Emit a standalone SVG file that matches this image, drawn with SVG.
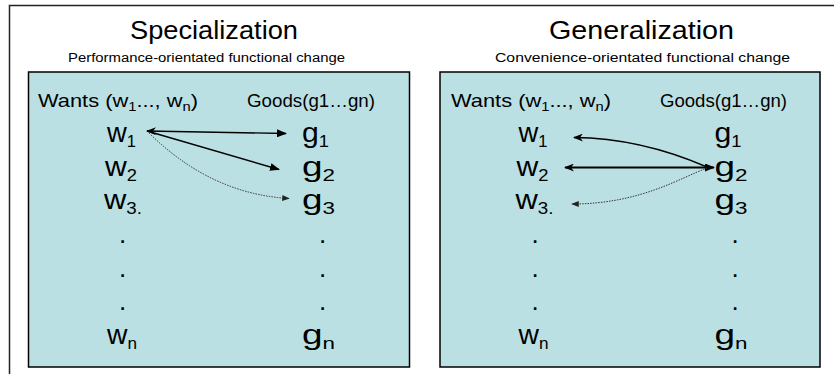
<svg xmlns="http://www.w3.org/2000/svg" width="834" height="374" viewBox="0 0 834 374">
<style>
text{font-family:"Liberation Sans",Arial,sans-serif;fill:#000}
.title{font-size:26px;text-anchor:middle}
.subt{font-size:12.5px;text-anchor:middle}
.hdr{font-size:18.5px}
.big{font-size:28px}
.sub{font-size:17px}
.hsub{font-size:12.5px}
.dot{font-size:26px;text-anchor:middle}
.box{fill:#BBE0E3;stroke:#000;stroke-width:1.5}
.ln{fill:none;stroke:#000;stroke-width:1.4}
.dt{fill:none;stroke:#333;stroke-width:1;stroke-dasharray:1.5 1.2}
</style>
<defs>
<marker id="tri" viewBox="0 0 10 8" refX="9" refY="4" markerWidth="10" markerHeight="8" markerUnits="userSpaceOnUse" orient="auto-start-reverse"><path d="M0,0 L10,4 L0,8 Z" fill="#000"/></marker>
<marker id="stl" viewBox="0 0 10 8" refX="9" refY="4" markerWidth="10" markerHeight="8" markerUnits="userSpaceOnUse" orient="auto-start-reverse"><path d="M0,0 L10,4 L0,8 L3,4 Z" fill="#000"/></marker>
<marker id="tris" viewBox="0 0 10 8" refX="9" refY="4" markerWidth="8" markerHeight="6" markerUnits="userSpaceOnUse" orient="auto-start-reverse"><path d="M0,0 L10,4 L0,8 Z" fill="#222"/></marker>
</defs>
<g id="frame">
<path d="M9.5,374 V5.5 H834" fill="none" stroke="#222" stroke-width="1.5"/>
</g>
<g id="specialization">
<text class="title" x="214" y="39" textLength="168" lengthAdjust="spacingAndGlyphs">Specialization</text>
<text class="subt" x="206.5" y="62" textLength="277" lengthAdjust="spacingAndGlyphs">Performance-orientated functional change</text>
<rect class="box" x="28.5" y="72" width="381" height="295"/>
</g>
<g id="generalization">
<text class="title" x="641.5" y="39" textLength="185" lengthAdjust="spacingAndGlyphs">Generalization</text>
<text class="subt" x="642.5" y="62" textLength="295" lengthAdjust="spacingAndGlyphs">Convenience-orientated functional change</text>
<rect class="box" x="440" y="72" width="380" height="295"/>
</g>
<g id="left-wants">
<text class="hdr" x="38" y="107" textLength="160" lengthAdjust="spacingAndGlyphs">Wants (w<tspan class="hsub" dy="4">1</tspan><tspan dy="-4">..., w</tspan><tspan class="hsub" dy="4">n</tspan><tspan dy="-4">)</tspan></text>
<text class="big" x="107" y="142" textLength="29" lengthAdjust="spacingAndGlyphs">w<tspan class="sub" dy="5">1</tspan></text>
<text class="big" x="105" y="175.7" textLength="32" lengthAdjust="spacingAndGlyphs">w<tspan class="sub" dy="5">2</tspan></text>
<text class="big" x="104" y="209.3" textLength="38" lengthAdjust="spacingAndGlyphs">w<tspan class="sub" dy="5">3.</tspan></text>
<text class="dot" x="122.7" y="243">.</text>
<text class="dot" x="122.7" y="276.7">.</text>
<text class="dot" x="122.7" y="310.3">.</text>
<text class="big" x="107" y="344" textLength="30" lengthAdjust="spacingAndGlyphs">w<tspan class="sub" dy="5">n</tspan></text>
</g>
<g id="left-goods">
<text class="hdr" x="247" y="107" textLength="128" lengthAdjust="spacingAndGlyphs">Goods(g1…gn)</text>
<text class="big" x="302" y="142" textLength="27" lengthAdjust="spacingAndGlyphs">g<tspan class="sub" dy="5">1</tspan></text>
<text class="big" x="302" y="175.7" textLength="33" lengthAdjust="spacingAndGlyphs">g<tspan class="sub" dy="5">2</tspan></text>
<text class="big" x="302" y="209.3" textLength="33" lengthAdjust="spacingAndGlyphs">g<tspan class="sub" dy="5">3</tspan></text>
<text class="dot" x="322.7" y="243">.</text>
<text class="dot" x="322.7" y="276.7">.</text>
<text class="dot" x="322.7" y="310.3">.</text>
<text class="big" x="302" y="344" textLength="33" lengthAdjust="spacingAndGlyphs">g<tspan class="sub" dy="5">n</tspan></text>
</g>
<g id="right-wants">
<text class="hdr" x="451" y="107" textLength="160" lengthAdjust="spacingAndGlyphs">Wants (w<tspan class="hsub" dy="4">1</tspan><tspan dy="-4">..., w</tspan><tspan class="hsub" dy="4">n</tspan><tspan dy="-4">)</tspan></text>
<text class="big" x="518.5" y="142" textLength="29" lengthAdjust="spacingAndGlyphs">w<tspan class="sub" dy="5">1</tspan></text>
<text class="big" x="516.5" y="175.7" textLength="32" lengthAdjust="spacingAndGlyphs">w<tspan class="sub" dy="5">2</tspan></text>
<text class="big" x="515.5" y="209.3" textLength="38" lengthAdjust="spacingAndGlyphs">w<tspan class="sub" dy="5">3.</tspan></text>
<text class="dot" x="535" y="243">.</text>
<text class="dot" x="535" y="276.7">.</text>
<text class="dot" x="535" y="310.3">.</text>
<text class="big" x="518.5" y="344" textLength="30" lengthAdjust="spacingAndGlyphs">w<tspan class="sub" dy="5">n</tspan></text>
</g>
<g id="right-goods">
<text class="hdr" x="660" y="107" textLength="127" lengthAdjust="spacingAndGlyphs">Goods(g1…gn)</text>
<text class="big" x="714.5" y="142" textLength="27" lengthAdjust="spacingAndGlyphs">g<tspan class="sub" dy="5">1</tspan></text>
<text class="big" x="714.5" y="175.7" textLength="33" lengthAdjust="spacingAndGlyphs">g<tspan class="sub" dy="5">2</tspan></text>
<text class="big" x="714.5" y="209.3" textLength="33" lengthAdjust="spacingAndGlyphs">g<tspan class="sub" dy="5">3</tspan></text>
<text class="dot" x="735" y="243">.</text>
<text class="dot" x="735" y="276.7">.</text>
<text class="dot" x="735" y="310.3">.</text>
<text class="big" x="714.5" y="344" textLength="33" lengthAdjust="spacingAndGlyphs">g<tspan class="sub" dy="5">n</tspan></text>
</g>
<g id="connectors">
<path class="ln" d="M147,131 L286,133.5" marker-start="url(#stl)" marker-end="url(#tri)"/>
<path class="ln" d="M147,131 L279,169.5" marker-end="url(#tri)"/>
<path class="dt" d="M149,133 Q211,194 289,198.5" marker-end="url(#tris)"/>
<path class="ln" d="M707,167 Q640,138 574,137.5" marker-end="url(#stl)"/>
<path class="ln" style="stroke-width:2" d="M565,167.5 L714,167.5" marker-start="url(#stl)" marker-end="url(#tri)"/>
<path class="dt" d="M707,168 C680,178 640,204 572,204" marker-end="url(#tris)"/>
</g>
</svg>
